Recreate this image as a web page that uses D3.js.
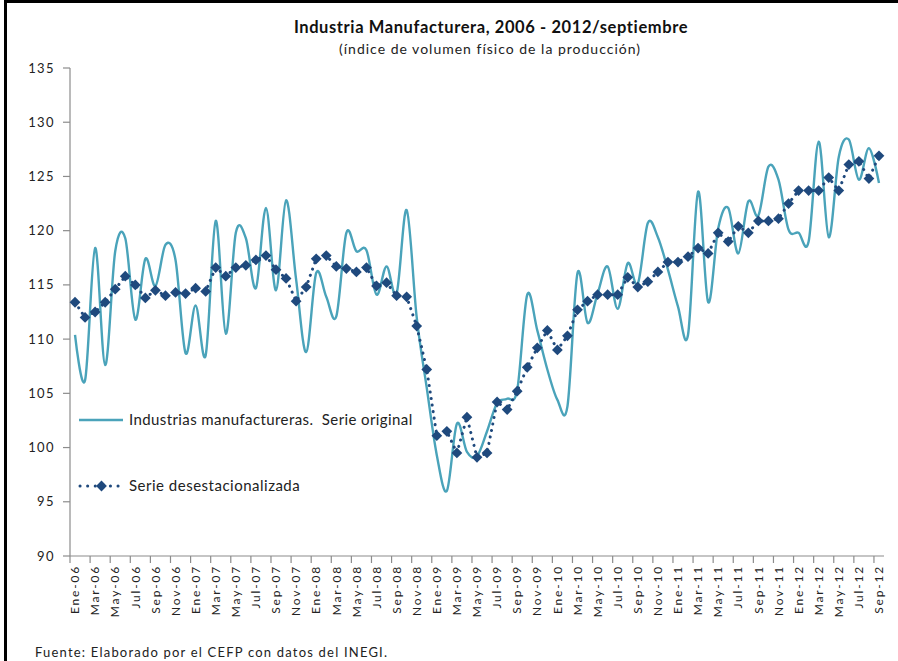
<!DOCTYPE html>
<html>
<head>
<meta charset="utf-8">
<script src="https://cdn.jsdelivr.net/npm/d3@7"></script>
<style>
  html, body { margin: 0; padding: 0; background: #fff; }
  svg { display: block; font-family: Lato, "Open Sans", sans-serif; }
  text { white-space: pre; }
</style>
</head>
<body>
<svg id="chart" width="898" height="661"></svg>
<script>
// ---- Data ----
const monthNames = ["Ene","Feb","Mar","Abr","May","Jun","Jul","Ago","Sep","Oct","Nov","Dic"];
const years = ["06","07","08","09","10","11","12"];
const categories = [];
years.forEach(y => monthNames.forEach(m => categories.push(m + "-" + y)));
categories.length = 81; // Ene-06 .. Sep-12

const serieOriginal = [110.4,106.2,118.4,107.6,118.1,119.3,111.8,117.4,114.9,118.7,
  117.3,108.7,113.1,108.5,120.9,110.5,119.8,119.3,114.7,122.1,
  114.5,122.8,115.5,108.8,116.1,113.9,112.1,119.8,118.1,118.2,
  114.1,116.7,114.2,121.9,112.0,105.5,99.3,96.0,102.2,99.6,
  99.2,101.5,104.1,104.5,105.3,114.1,110.8,107.2,104.4,103.8,
  116.1,111.5,114.2,116.7,112.8,117.0,115.1,120.7,119.4,116.4,
  113.0,110.4,123.6,113.4,120.2,122.1,117.9,122.7,121.4,125.9,
  124.7,120.1,119.8,119.0,128.2,119.4,126.8,128.4,124.7,127.6,124.4];

const serieDesest = [113.4,112.0,112.5,113.4,114.6,115.8,115.0,113.8,114.5,114.0,
  114.3,114.2,114.7,114.4,116.6,115.8,116.6,116.8,117.3,117.7,
  116.4,115.6,113.5,114.8,117.4,117.7,116.7,116.5,116.2,116.6,
  114.9,115.2,114.0,113.9,111.2,107.2,101.1,101.5,99.5,102.8,
  99.1,99.5,104.2,103.5,105.2,107.4,109.2,110.8,109.0,110.3,
  112.7,113.5,114.1,114.1,114.1,115.7,114.8,115.3,116.2,117.1,
  117.1,117.6,118.4,117.9,119.8,119.0,120.4,119.8,120.9,120.9,
  121.1,122.5,123.7,123.7,123.7,124.9,123.7,126.1,126.4,124.8,126.9];

const yTicks = [90,95,100,105,110,115,120,125,130,135];
const xTickLabels = categories.filter((d, i) => i % 2 === 0);

const titleText = "Industria Manufacturera, 2006 - 2012/septiembre";
const subtitleText = "(índice de volumen físico de la producción)";
const legendLabels = ["Industrias manufactureras.  Serie original", "Serie desestacionalizada"];
const sourceText = "Fuente: Elaborado por el CEFP con datos del INEGI.";

// ---- Layout ----
const svg = d3.select("#chart");
const colOrig = "#4aa3ba";
const colSA = "#1f497d";
const axisCol = "#8c8c8c";

const x = d3.scaleBand().domain(d3.range(categories.length)).range([70, 884]).padding(0);
const cx = i => x(i) + x.bandwidth() / 2;
const y = d3.scaleLinear().domain([90, 135]).range([556, 68]);

// frame
svg.append("path")
  .attr("d", "M5.5,661 L5.5,1.5 L899,1.5")
  .attr("fill", "none").attr("stroke", "#000").attr("stroke-width", 3);

// title
svg.append("text").attr("x", 491).attr("y", 33).attr("text-anchor", "middle")
  .attr("font-size", 16.5).attr("letter-spacing", 0.6).attr("font-weight", "bold").attr("fill", "#111")
  .text(titleText);
svg.append("text").attr("x", 490).attr("y", 54).attr("text-anchor", "middle")
  .attr("font-size", 14).attr("letter-spacing", 1).attr("fill", "#222")
  .text(subtitleText);

// y axis
const yAxis = svg.append("g");
yAxis.append("line").attr("x1", 70).attr("x2", 70).attr("y1", y(135)).attr("y2", y(90))
  .attr("stroke", axisCol).attr("stroke-width", 1.2);
yAxis.selectAll("line.tick").data(yTicks).enter().append("line")
  .attr("x1", 63).attr("x2", 70).attr("y1", d => y(d)).attr("y2", d => y(d))
  .attr("stroke", axisCol).attr("stroke-width", 1.2);
yAxis.selectAll("text").data(yTicks).enter().append("text")
  .attr("x", 55).attr("y", d => y(d)).attr("dy", "0.35em")
  .attr("text-anchor", "end").attr("font-size", 13).attr("letter-spacing", 1.4)
  .attr("fill", "#222").text(d => d);

// x axis
const xAxis = svg.append("g");
xAxis.append("line").attr("x1", 70).attr("x2", 884).attr("y1", y(90)).attr("y2", y(90))
  .attr("stroke", axisCol).attr("stroke-width", 1.2);
const tickIdx = d3.range(0, categories.length, 2);
xAxis.selectAll("line.tick").data(tickIdx).enter().append("line")
  .attr("x1", d => x(d)).attr("x2", d => x(d)).attr("y1", y(90)).attr("y2", y(90) + 7)
  .attr("stroke", axisCol).attr("stroke-width", 1.2);
xAxis.selectAll("text").data(xTickLabels).enter().append("text")
  .attr("transform", d => `translate(${cx(categories.indexOf(d))},${y(90) + 9}) rotate(-90)`)
  .attr("dy", "0.35em").attr("text-anchor", "end")
  .attr("font-size", 12).attr("letter-spacing", 1.8).attr("fill", "#222")
  .text(d => d);

// series: original (smooth)
const lineGen = d3.line().x((d, i) => cx(i)).y(d => y(d)).curve(d3.curveCardinal.tension(0));
svg.append("path").datum(serieOriginal).attr("d", lineGen)
  .attr("fill", "none").attr("stroke", colOrig).attr("stroke-width", 2.4);

// series: seasonally adjusted (dotted + diamonds)
const lineSA = d3.line().x((d, i) => cx(i)).y(d => y(d));
svg.append("path").datum(serieDesest).attr("d", lineSA)
  .attr("fill", "none").attr("stroke", colSA).attr("stroke-width", 3)
  .attr("stroke-linecap", "round").attr("stroke-dasharray", "0.1 6.5");
const diamond = d3.symbol().type(d3.symbolSquare).size(58);
svg.selectAll("path.dia").data(serieDesest).enter().append("path")
  .attr("class", "dia")
  .attr("d", diamond)
  .attr("transform", (d, i) => `translate(${cx(i)},${y(d)}) rotate(45)`)
  .attr("fill", colSA);

// legend
const lg = svg.append("g");
lg.append("line").attr("x1", 79).attr("x2", 123).attr("y1", 420).attr("y2", 420)
  .attr("stroke", colOrig).attr("stroke-width", 2.4);
lg.append("text").attr("x", 129).attr("y", 420).attr("dy", "0.35em")
  .attr("font-size", 15).attr("letter-spacing", 0.4).attr("fill", "#222").text(legendLabels[0]);
lg.append("line").attr("x1", 80).attr("x2", 122).attr("y1", 486).attr("y2", 486)
  .attr("stroke", colSA).attr("stroke-width", 3).attr("stroke-linecap", "round")
  .attr("stroke-dasharray", "0.1 7.5");
lg.append("path").attr("d", diamond).attr("transform", "translate(101.5,486) rotate(45)")
  .attr("fill", colSA);
lg.append("text").attr("x", 129).attr("y", 486).attr("dy", "0.35em")
  .attr("font-size", 15).attr("letter-spacing", 0.5).attr("fill", "#222").text(legendLabels[1]);

// source
svg.append("text").attr("x", 35).attr("y", 657).attr("font-size", 13)
  .attr("letter-spacing", 1.2).attr("fill", "#222").text(sourceText);
</script>
</body>
</html>
